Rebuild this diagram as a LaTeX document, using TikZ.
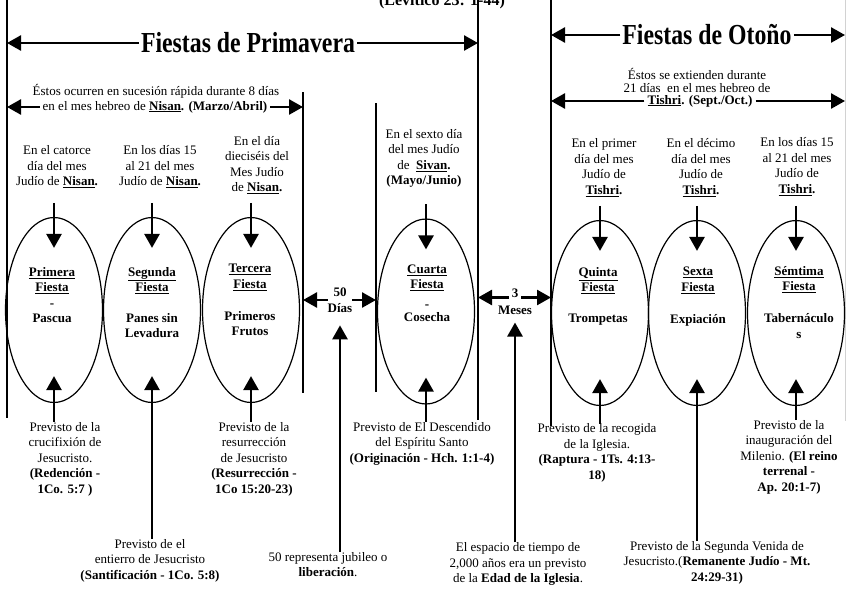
\documentclass[tikz,border=0pt]{standalone}
\usepackage{fontspec}
\setmainfont{Liberation Serif}
\newfontfamily\titulofont{Liberation Serif}[FakeStretch=0.82]
\usetikzlibrary{shapes.geometric,arrows.meta}

\newcommand{\cuerpo}{\fontsize{13}{15.5}\selectfont}
\newcommand{\mes}[1]{\underline{\textbf{#1}}\textbf{.}}

\tikzset{
	fiesta/.style={draw, ellipse, line width=1.2pt, minimum width=97pt, minimum height=185pt, inner sep=0pt},
	texto/.style={align=center, inner sep=0pt, font=\cuerpo},
	negrita/.style={texto, font=\cuerpo\bfseries},
	titulo/.style={inner sep=2pt, font=\titulofont\bfseries\fontsize{29}{34}\selectfont},
	limite/.style={line width=1.6pt},
	flecha/.style={line width=2.6pt, -{Triangle[length=14pt,width=15pt]}},
}

\begin{document}
\begin{tikzpicture}[x=1pt, y=-1pt]

	\useasboundingbox (0,0) rectangle (846,590);

	% vertical limits
	\coordinate (izqA) at (7,0);     \coordinate (izqB) at (7,418);
	\coordinate (nisA) at (303,92);  \coordinate (nisB) at (303,393);
	\coordinate (sivA) at (376,103); \coordinate (sivB) at (376,392);
	\coordinate (priA) at (478,0);   \coordinate (priB) at (478,420);
	\coordinate (otoA) at (551,0);   \coordinate (otoB) at (551,426);
	\coordinate (derA) at (845,0);   \coordinate (derB) at (845,421);

	\draw[limite] (izqA) -- (izqB);
	\draw[limite] (nisA) -- (nisB);
	\draw[limite] (sivA) -- (sivB);
	\draw[limite] (priA) -- (priB);
	\draw[limite] (otoA) -- (otoB);
	\draw[line width=0.8pt, gray!35] (derA) -- (derB);

	% titles
	\node[anchor=base, font=\fontsize{16}{19}\selectfont\bfseries] (levitico) at (442,5) {(Levítico 23: 1-44)};

	\node[titulo] (primavera) at (248,43) {Fiestas de Primavera};
	\draw[flecha] (primavera.west) -- (izqA |- primavera.west);
	\draw[flecha] (primavera.east) -- (priA |- primavera.east);

	\node[titulo] (otono) at (707,35) {Fiestas de Otoño};
	\draw[flecha] (otono.west) -- (otoA |- otono.west);
	\draw[flecha] (otono.east) -- (derA |- otono.east);

	% month spans
	\node[texto] (nisan1) at (156,91) {Éstos ocurren en sucesión rápida durante 8 días};
	\node[texto, inner xsep=3pt] (nisan2) at (155,107) {en el mes hebreo de \mes{Nisan} \textbf{(Marzo/Abril)}};
	\draw[flecha] (nisan2.west) -- (izqA |- nisan2.west);
	\draw[flecha] (nisan2.east) -- (nisA |- nisan2.east);

	\node[texto, font=\fontsize{13}{13}\selectfont] (tishri1) at (697,80.5) {Éstos se extienden durante\\21 días~ en el mes hebreo de};
	\node[texto, inner xsep=3pt] (tishri2) at (700,101) {\mes{Tishri} \textbf{(Sept./Oct.)}};
	\draw[flecha] (tishri2.west) -- (otoA |- tishri2.west);
	\draw[flecha] (tishri2.east) -- (derA |- tishri2.east);

	% dates above the feasts
	\node[texto] (cuando1) at (57,167) {En el catorce\\día del mes\\Judío de \mes{Nisan}};
	\node[texto] (cuando2) at (160,167) {En los días 15\\al 21 del mes\\Judío de \mes{Nisan}};
	\node[texto] (cuando3) at (257,165) {En el día\\dieciséis del\\Mes Judío\\de \mes{Nisan}};
	\node[texto] (cuando4) at (424,158.5) {En el sexto día\\del mes Judío\\de~ \mes{Sivan}\\\textbf{(Mayo/Junio)}};
	\node[texto] (cuando5) at (604,167.5) {En el primer\\día del mes\\Judío de\\\mes{Tishri}};
	\node[texto] (cuando6) at (701,167.5) {En el décimo\\día del mes\\Judío de\\\mes{Tishri}};
	\node[texto] (cuando7) at (797,166.5) {En los días 15\\al 21 del mes\\Judío de\\\mes{Tishri}};

	% feasts
	\node[fiesta] (fiesta1) at (54,310) {};
	\node[fiesta] (fiesta2) at (152,310) {};
	\node[fiesta] (fiesta3) at (251,310) {};
	\node[fiesta] (fiesta4) at (426,311.5) {};
	\node[fiesta] (fiesta5) at (600,313) {};
	\node[fiesta] (fiesta6) at (697,313) {};
	\node[fiesta] (fiesta7) at (796,313) {};

	\node[negrita] (orden1) at (52,280.5) {\underline{Primera}\\\underline{Fiesta}};
	\node[negrita] (guion1) at (52,306) {-};
	\node[negrita] (nombre1) at (52,318) {Pascua};
	\node[negrita] (orden2) at (152,280.5) {\underline{Segunda}\\\underline{Fiesta}};
	\node[negrita] (nombre2) at (152,325.5) {Panes sin\\Levadura};
	\node[negrita] (orden3) at (250,277.5) {\underline{Tercera}\\\underline{Fiesta}};
	\node[negrita] (nombre3) at (250,323.5) {Primeros\\Frutos};
	\node[negrita] (orden4) at (427,278) {\underline{Cuarta}\\\underline{Fiesta}};
	\node[negrita] (guion4) at (427,307) {-};
	\node[negrita] (nombre4) at (427,317) {Cosecha};
	\node[negrita] (orden5) at (598,280.5) {\underline{Quinta}\\\underline{Fiesta}};
	\node[negrita] (nombre5) at (598,320) {Trompetas};
	\node[negrita] (orden6) at (698,280.5) {\underline{Sexta}\\\underline{Fiesta}};
	\node[negrita] (nombre6) at (698,320) {Expiación};
	\node[negrita] (orden7) at (799,279.5) {\underline{Sémtima}\\\underline{Fiesta}};
	\node[negrita] (nombre7) at (799,326) {Tabernáculo\\s};

	% arrows into the feasts
	\draw[flecha] ([yshift=14pt]fiesta1.north) -- ([yshift=-31pt]fiesta1.north);
	\draw[flecha] ([yshift=14pt]fiesta2.north) -- ([yshift=-31pt]fiesta2.north);
	\draw[flecha] ([yshift=14pt]fiesta3.north) -- ([yshift=-31pt]fiesta3.north);
	\draw[flecha] ([yshift=14pt]fiesta4.north) -- ([yshift=-31pt]fiesta4.north);
	\draw[flecha] ([yshift=14pt]fiesta5.north) -- ([yshift=-31pt]fiesta5.north);
	\draw[flecha] ([yshift=14pt]fiesta6.north) -- ([yshift=-31pt]fiesta6.north);
	\draw[flecha] ([yshift=14pt]fiesta7.north) -- ([yshift=-31pt]fiesta7.north);

	% gaps between feasts
	\node[negrita] (dias) at (340,300) {50\\Días};
	\draw[flecha] (dias.west) -- (nisA |- dias.west);
	\draw[flecha] (dias.east) -- (sivA |- dias.east);

	\node[negrita, anchor=base, inner xsep=3pt] (tres) at (515,297.5) {3};
	\node[negrita] (meses) at (515,310) {Meses};
	\draw[flecha] (tres.base west) -- (priA |- tres.base west);
	\draw[flecha] (tres.base east) -- (otoA |- tres.base east);

	% what each feast foresees
	\node[texto] (previsto1) at (65,459) {Previsto de la\\crucifixión de\\Jesucristo.\\\textbf{(Redención -}\\\textbf{1Co. 5:7 )}};
	\node[texto] (previsto2) at (150,560.5) {Previsto de el\\entierro de Jesucristo\\\textbf{(Santificación - 1Co. 5:8)}};
	\node[texto] (previsto3) at (254,459) {Previsto de la\\resurrección\\de Jesucristo\\\textbf{(Resurrección -}\\\textbf{1Co 15:20-23)}};
	\node[texto] (previsto4) at (422,443.5) {Previsto de El Descendido\\del Espíritu Santo\\\textbf{(Originación - Hch. 1:1-4)}};
	\node[texto] (previsto5) at (597,453) {Previsto de la recogida\\de la Iglesia.\\\textbf{(Raptura - 1Ts. 4:13-}\\\textbf{18)}};
	\node[texto] (previsto6) at (717,562.5) {Previsto de la Segunda Venida de\\Jesucristo.(\textbf{Remanente Judío - Mt.}\\\textbf{24:29-31)}};
	\node[texto] (previsto7) at (789,457) {Previsto de la\\inauguración del\\Milenio. \textbf{(El reino}\\\textbf{terrenal -}\\\textbf{Ap. 20:1-7)}};
	\node[texto] (jubileo) at (328,564.5) {50 representa jubileo o\\\textbf{liberación}.};
	\node[texto] (espacio) at (518,564) {El espacio de tiempo de\\2,000 años era un previsto\\de la \textbf{Edad de la Iglesia}.};

	\draw[flecha] (fiesta1.south |- previsto1.north) -- ([yshift=27pt]fiesta1.south);
	\draw[flecha] (fiesta2.south |- previsto2.north) -- ([yshift=27pt]fiesta2.south);
	\draw[flecha] (fiesta3.south |- previsto3.north) -- ([yshift=27pt]fiesta3.south);
	\draw[flecha] (fiesta4.south |- previsto4.north) -- ([yshift=27pt]fiesta4.south);
	\draw[flecha] (fiesta5.south |- previsto5.north) -- ([yshift=27pt]fiesta5.south);
	\draw[flecha] (fiesta6.south |- previsto6.north) -- ([yshift=27pt]fiesta6.south);
	\draw[flecha] (fiesta7.south |- previsto7.north) -- ([yshift=27pt]fiesta7.south);

	\draw[flecha] (dias.south |- jubileo.north) -- ([yshift=-13pt]dias.south);
	\draw[flecha] (meses.south |- espacio.north) -- ([yshift=-8pt]meses.south);

\end{tikzpicture}
\end{document}
